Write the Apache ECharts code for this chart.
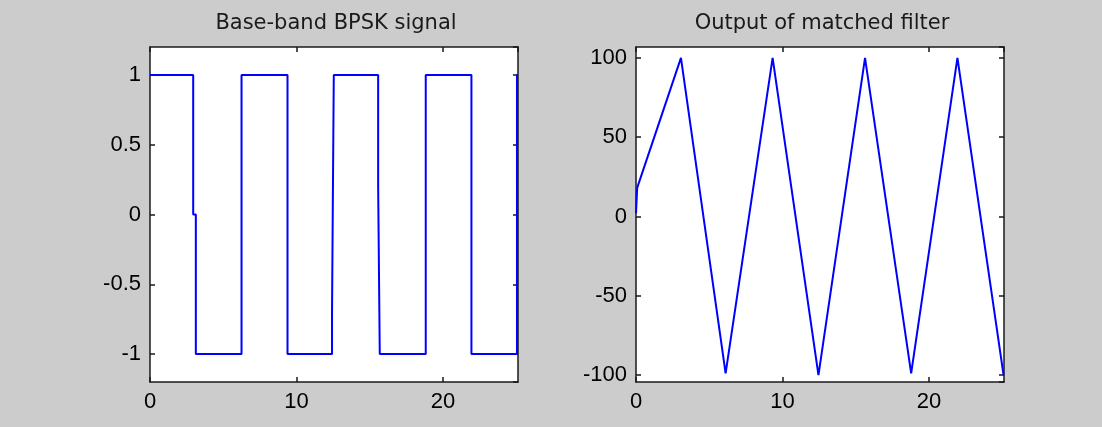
<!DOCTYPE html>
<html>
<head>
<meta charset="utf-8">
<title>BPSK</title>
<script src="https://cdn.jsdelivr.net/npm/echarts@6/dist/echarts.min.js"></script>
<style>
  html, body { margin: 0; padding: 0; background: #cccccc; }
  #main { width: 1102px; height: 427px; }
</style>
</head>
<body>
<div id="main"></div>
<script>
// left panel: base-band BPSK signal
const bpskT = [0, 2.95, 2.95, 3.13, 3.13, 6.25, 6.25, 9.39, 9.39, 12.43, 12.43, 12.55, 12.55,
  15.58, 15.58, 15.69, 15.69, 18.83, 18.83, 21.95, 21.95, 25.06, 25.06, 25.13];
const bpskV = [1, 1, 0, 0, -1, -1, 1, 1, -1, -1, -0.7, -0.7, 1, 1, 0.2, 0.2, -1, -1, 1, 1, -1, -1, 1, 1];

// right panel: matched filter output
const mfT = [0, 0.08, 3.07, 6.12, 9.33, 12.46, 15.64, 18.79, 21.95, 25.1];
const mfV = [2, 18, 100, -99, 100, -100, 100, -99, 100, -100];

const titles = ['Base-band BPSK signal', 'Output of matched filter'];
const xMax = 25.13;
const yRange = [[-1.2, 1.2], [-104.4, 106.9]];

const zip = (a, b) => a.map((v, i) => [v, b[i]]);

const myChart = echarts.init(document.getElementById('main'));

const labelFont = { color: '#000', fontFamily: 'Liberation Sans', fontSize: 22 };
const lineStyle = { color: '#1a1a1a', width: 1.5 };

const grids = [
  { left: 150, top: 47, width: 368, height: 335 },
  { left: 636, top: 47, width: 368, height: 335 }
];

const xAxis = [];
const yAxis = [];
grids.forEach((g, i) => {
  g.show = true;
  g.backgroundColor = '#fff';
  g.borderWidth = 0;
  // bottom + top x axes (top one only for the ticks)
  ['bottom', 'top'].forEach((pos) => {
    xAxis.push({
      gridIndex: i, type: 'value', position: pos, min: 0, max: xMax, interval: 10,
      axisLine: { show: true, onZero: false, lineStyle },
      axisTick: { show: true, inside: true, length: 5, lineStyle },
      axisLabel: pos === 'bottom' ? { ...labelFont, margin: 9, showMaxLabel: false } : { show: false },
      splitLine: { show: false }
    });
  });
  ['left', 'right'].forEach((pos) => {
    yAxis.push({
      gridIndex: i, type: 'value', position: pos,
      min: yRange[i][0], max: yRange[i][1], splitNumber: i === 0 ? 5 : 4,
      axisLine: { show: true, onZero: false, lineStyle },
      axisTick: { show: true, inside: true, length: 5, lineStyle },
      axisLabel: pos === 'left' ? { ...labelFont, margin: 9, showMinLabel: false, showMaxLabel: false } : { show: false },
      splitLine: { show: false }
    });
  });
});

const option = {
  backgroundColor: '#cccccc',
  animation: false,
  title: titles.map((t, i) => ({
    text: t,
    left: grids[i].left + grids[i].width / 2 - 3,
    top: 8,
    textAlign: 'center',
    textStyle: { fontFamily: 'DejaVu Sans', fontSize: 21, fontWeight: 'normal', color: '#1a1a1a' }
  })),
  grid: grids,
  xAxis,
  yAxis,
  series: [
    {
      type: 'line', xAxisIndex: 0, yAxisIndex: 0, data: zip(bpskT, bpskV),
      showSymbol: false, lineStyle: { color: '#0000ff', width: 2 }, itemStyle: { color: '#0000ff' }
    },
    {
      type: 'line', xAxisIndex: 2, yAxisIndex: 2, data: zip(mfT, mfV),
      showSymbol: false, lineStyle: { color: '#0000ff', width: 2 }, itemStyle: { color: '#0000ff' }
    }
  ]
};

myChart.setOption(option);
</script>
</body>
</html>
